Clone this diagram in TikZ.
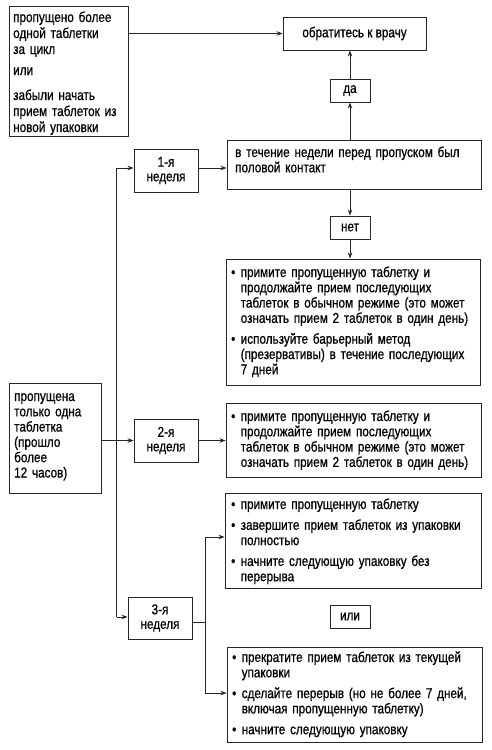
\documentclass[tikz,border=0pt]{standalone}
\usepackage{fontspec}
\setmainfont{Liberation Sans}[FakeStretch=0.82,FakeBold=0.7]
\usetikzlibrary{arrows.meta}
\newcommand\bul[1]{\noindent\hangindent=9.5pt\hangafter=1\makebox[9.5pt][l]{\textbullet}#1\par}
\newcommand\gap{\vspace{5.5pt}}
\begin{document}
\begin{tikzpicture}[x=1pt,y=-1pt,
  box/.style={draw=black!85, line width=0.9pt, inner sep=0pt},
  sbox/.style={box, align=center, font=\fontsize{14.3}{14.5}\selectfont},
  txt/.style={anchor=base west, inner sep=0pt, text width=#1, font=\fontsize{14.3}{15.3}\selectfont},
  arr/.style={draw=black!85, line width=0.9pt, -{Stealth[length=6pt,width=4.5pt]}},
  ln/.style={draw=black!85, line width=0.9pt}]
\fill[white] (0,0) rectangle (492,750);
\useasboundingbox (0,0) rectangle (492,750);
% boxes
\node[box, minimum width=119pt, minimum height=130pt] (A) at (68.5,71) {};
\node[sbox, minimum width=143pt, minimum height=33pt] (Doc) at (354.5,33.5) {обратитесь к врачу};
\node[sbox, minimum width=40pt, minimum height=23pt] (da) at (350,90.5) {да};
\node[box, minimum width=254pt, minimum height=49pt] (C) at (354,164.5) {};
\node[sbox, minimum width=64pt, minimum height=43pt] (W1) at (166,170.5) {1-я\\неделя};
\node[sbox, minimum width=40pt, minimum height=23pt] (net) at (350,227.5) {нет};
\node[box, minimum width=254pt, minimum height=126pt] (D) at (353,322) {};
\node[box, minimum width=92pt, minimum height=110pt] (P) at (55,438) {};
\node[sbox, minimum width=64pt, minimum height=43pt] (W2) at (166,440.5) {2-я\\неделя};
\node[box, minimum width=255pt, minimum height=74pt] (E) at (353.5,440) {};
\node[box, minimum width=256pt, minimum height=95pt] (F) at (353,540.5) {};
\node[sbox, minimum width=64pt, minimum height=42pt] (W3) at (160,618) {3-я\\неделя};
\node[sbox, minimum width=40pt, minimum height=23pt] (ili) at (350,616.5) {или};
\node[box, minimum width=255pt, minimum height=95pt] (G) at (354.5,694.5) {};
% texts
\node[txt=115pt, align=left, font=\fontsize{14.3}{16}\selectfont] (tA) at (13,22)
  {пропущено более\\одной таблетки\\за цикл\\[5pt]или\\[9pt]забыли начать\\прием таблеток из\\новой упаковки};
\node[txt=245pt, align=left] (tC) at (235,157) {в течение недели перед пропуском был\\половой контакт};
\node[txt=250pt] (tD) at (231,277) {%
  \bul{примите пропущенную таблетку и\newline продолжайте прием последующих\newline таблеток в обычном режиме (это может\newline означать прием 2 таблеток в один день)}\gap
  \bul{используйте барьерный метод\newline (презервативы) в течение последующих\newline 7 дней}};
\node[txt=85pt, align=left] (tP) at (14,401) {пропущена\\только одна\\таблетка\\(прошло\\более\\12 часов)};
\node[txt=250pt] (tE) at (231,421) {%
  \bul{примите пропущенную таблетку и\newline продолжайте прием последующих\newline таблеток в обычном режиме (это может\newline означать прием 2 таблеток в один день)}};
\node[txt=250pt] (tF) at (231,509) {%
  \bul{примите пропущенную таблетку}\gap
  \bul{завершите прием таблеток из упаковки\newline полностью}\gap
  \bul{начните следующую упаковку без\newline перерыва}};
\node[txt=250pt] (tG) at (232,662) {%
  \bul{прекратите прием таблеток из текущей\newline упаковки}\gap
  \bul{сделайте перерыв (но не более 7 дней,\newline включая пропущенную таблетку)}\gap
  \bul{начните следующую упаковку}};
% connectors
\draw[arr] (A.east |- Doc.west) -- (Doc.west);
\draw[arr] (C.north -| da.south) -- (da.south);
\draw[arr] (da.north) -- (da.north |- Doc.south);
\draw[arr] (C.south -| net.north) -- (net.north);
\draw[arr] (net.south) -- (net.south |- D.north);
\coordinate (sT) at (116.5,168);
\coordinate (sB) at (116.5,617);
\draw[ln] (sT) -- (sB);
\draw[arr] (sT) -- (sT -| W1.west);
\draw[arr] (sT -| W1.east) -- (sT -| C.west);
\draw[arr] (P.east |- W2.west) -- (W2.west);
\draw[arr] (W2.east) -- (W2.east -| E.west);
\draw[arr] (sB) -- (sB -| W3.west);
\coordinate (j) at (205,622);
\coordinate (jT) at (205,537);
\coordinate (jB) at (205,693);
\draw[ln] (j -| W3.east) -- (j);
\draw[ln] (jT) -- (jB);
\draw[arr] (jT) -- (jT -| F.west);
\draw[arr] (jB) -- (jB -| G.west);
\end{tikzpicture}
\end{document}
